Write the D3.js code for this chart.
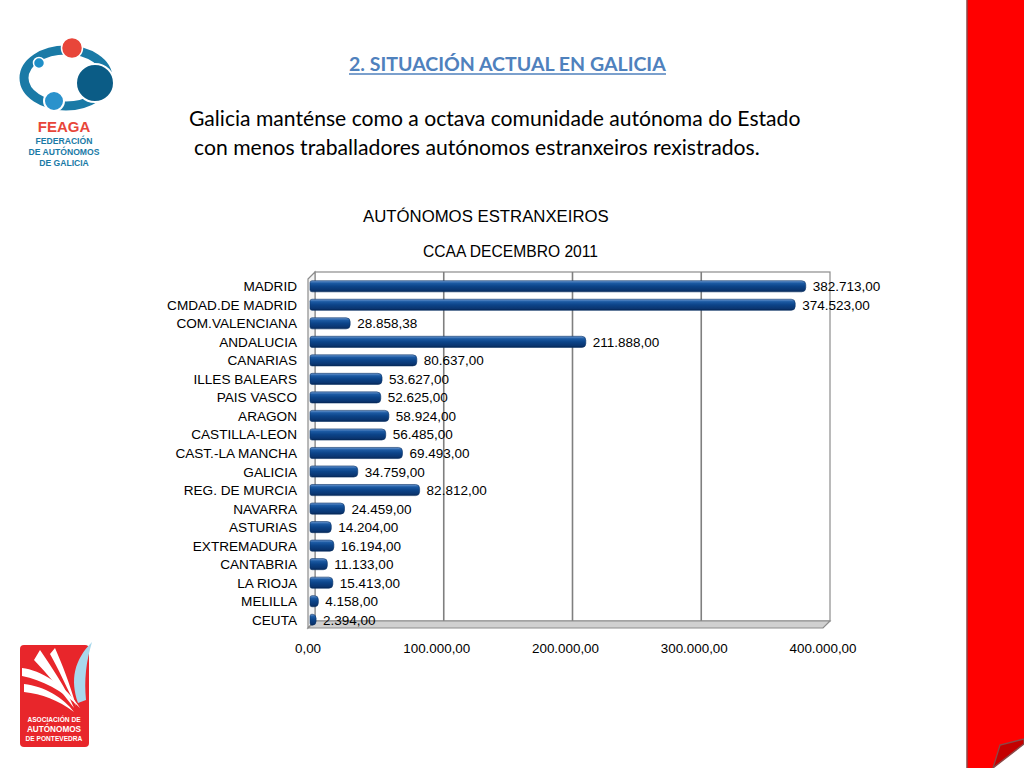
<!DOCTYPE html>
<html><head><meta charset="utf-8">
<script src="https://cdnjs.cloudflare.com/ajax/libs/d3/7.8.5/d3.min.js"></script>
<style>html,body{margin:0;padding:0;background:#fff;}svg{display:block;}</style>
</head><body>
<svg id="c" width="1024" height="768"></svg>
<script>
const categories = ["MADRID","CMDAD.DE MADRID","COM.VALENCIANA","ANDALUCIA","CANARIAS","ILLES BALEARS","PAIS VASCO","ARAGON","CASTILLA-LEON","CAST.-LA MANCHA","GALICIA","REG. DE MURCIA","NAVARRA","ASTURIAS","EXTREMADURA","CANTABRIA","LA RIOJA","MELILLA","CEUTA"];
const values = [382713,374523,28858.38,211888,80637,53627,52625,58924,56485,69493,34759,82812,24459,14204,16194,11133,15413,4158,2394];
const tickValues = [0,100000,200000,300000,400000];
const heading = "2. SITUACIÓN ACTUAL EN GALICIA";
const bodyLines = ["Galicia manténse como a octava comunidade autónoma do Estado","con menos traballadores autónomos estranxeiros rexistrados."];
const chartTitle = "AUTÓNOMOS ESTRANXEIROS";
const chartSubtitle = "CCAA DECEMBRO 2011";

const svg = d3.select("#c");
const loc = d3.formatLocale({decimal:",",thousands:".",grouping:[3],currency:["","€"]});
const fmt = loc.format(",.2f");

function fit(sel, w){ const n=sel.node(); const cur=n.getComputedTextLength(); const fs=parseFloat(sel.attr("font-size")); sel.attr("font-size", fs*w/cur); }

const defs = svg.append("defs");
const g = defs.append("linearGradient").attr("id","bar").attr("x1",0).attr("y1",0).attr("x2",0).attr("y2",1);
[[0,"#6f9bd3"],[0.22,"#1c5aa3"],[0.5,"#0c4489"],[0.85,"#0a3570"],[1,"#052552"]].forEach(s=>g.append("stop").attr("offset",s[0]).attr("stop-color",s[1]));

// Right red band
svg.append("rect").attr("x",967).attr("y",-2).attr("width",60).attr("height",772).attr("fill","#ff0000").attr("stroke","#8b4747").attr("stroke-width",1.5);
svg.append("path").attr("d","M993,768 L1000,745 L1024,739 L1024,744 Z").attr("fill","#c40000").attr("stroke","#8b4747").attr("stroke-width",1.3);
svg.append("path").attr("d","M993,768 L1024,744 L1024,768 Z").attr("fill","#fff");
svg.append("path").attr("d","M993,768 L1024,744").attr("stroke","#8b4747").attr("stroke-width",1.3);

// FEAGA logo
const lg = svg.append("g");
lg.append("ellipse").attr("cx",66).attr("cy",78).attr("rx",42).attr("ry",28).attr("fill","none").attr("stroke","#1a7aa6").attr("stroke-width",9);
lg.append("circle").attr("cx",72).attr("cy",48).attr("r",10.5).attr("fill","#e8463a").attr("stroke","#fff").attr("stroke-width",1.5);
lg.append("circle").attr("cx",39).attr("cy",63).attr("r",5.5).attr("fill","#1f8fc8").attr("stroke","#fff").attr("stroke-width",1.5);
lg.append("circle").attr("cx",95).attr("cy",83).attr("r",19).attr("fill","#0b5c86").attr("stroke","#fff").attr("stroke-width",2);
lg.append("circle").attr("cx",54).attr("cy",101).attr("r",10).attr("fill","#2a92cc").attr("stroke","#fff").attr("stroke-width",2);
lg.append("text").attr("x",64).attr("y",132).attr("text-anchor","middle").attr("font-family","Liberation Sans, Arial, sans-serif").attr("font-weight","bold").attr("font-size",15).attr("fill","#e8463a").text("FEAGA");
[["FEDERACIÓN",144],["DE AUTÓNOMOS",155],["DE GALICIA",166]].forEach(d=>lg.append("text").attr("x",64).attr("y",d[1]).attr("text-anchor","middle").attr("font-family","Liberation Sans, Arial, sans-serif").attr("font-weight","bold").attr("font-size",8.6).attr("fill","#1a7aa6").text(d[0]));

// Pontevedra logo
const pg = svg.append("g");
pg.append("rect").attr("x",20).attr("y",645).attr("width",69).attr("height",102).attr("rx",4).attr("fill","#e8262b");
pg.append("path").attr("d","M78,703 C70,680 74,660 92,642 C86,662 84,680 86,700 Z").attr("fill","#a8d8ec");
pg.append("path").attr("d","M22,668 C40,670 66,685 80,708 C62,690 42,680 22,676 Z").attr("fill","#fff");
pg.append("path").attr("d","M24,684 C44,686 64,698 74,712 C58,700 42,694 24,692 Z").attr("fill","#fff");
pg.append("path").attr("d","M40,650 C52,668 66,688 74,708 C60,690 48,674 34,660 Z").attr("fill","#fff");
pg.append("path").attr("d","M55,648 C62,664 70,684 76,706 C66,686 58,668 50,654 Z").attr("fill","#fff");
[["ASOCIACIÓN DE",722,6.6],["AUTÓNOMOS",732,8.2],["DE PONTEVEDRA",741,6.6]].forEach(d=>pg.append("text").attr("x",54).attr("y",d[1]).attr("text-anchor","middle").attr("font-family","Liberation Sans, Arial, sans-serif").attr("font-weight","bold").attr("font-size",d[2]).attr("fill","#fff").text(d[0]));

// Heading
const h = svg.append("text").attr("x",349).attr("y",71).attr("font-family","Lato, 'Open Sans', sans-serif").attr("font-weight","bold").attr("font-size",19).attr("fill","#4f81bd").text(heading);
fit(h,317);
svg.append("line").attr("x1",349).attr("x2",666).attr("y1",74).attr("y2",74).attr("stroke","#4f81bd").attr("stroke-width",1.3);
const b1 = svg.append("text").attr("x",189).attr("y",126).attr("font-family","Lato, 'Open Sans', sans-serif").attr("font-size",20).attr("fill","#000").text(bodyLines[0]);
fit(b1,612);
const b2 = svg.append("text").attr("x",194).attr("y",155).attr("font-family","Lato, 'Open Sans', sans-serif").attr("font-size",20).attr("fill","#000").text(bodyLines[1]);
fit(b2,566);

// Chart titles
const t1 = svg.append("text").attr("x",363).attr("y",222).attr("font-family","Liberation Sans, Arial, sans-serif").attr("font-size",17).attr("fill","#000").text(chartTitle);
fit(t1,246);
const t2 = svg.append("text").attr("x",423).attr("y",257).attr("font-family","Liberation Sans, Arial, sans-serif").attr("font-size",15).attr("fill","#000").text(chartSubtitle);
fit(t2,175);

// Chart
const x = d3.scaleLinear().domain([0,400000]).range([308,823]);
const dx = 7, dy = -7;
const y = d3.scaleBand().domain(categories).range([277,629]).paddingInner(0.4).paddingOuter(0.2);
const yTop = 279, yBot = 628;
const ch = svg.append("g");
// back wall
ch.append("rect").attr("x",x(0)+dx).attr("y",yTop+dy).attr("width",x(400000)-x(0)).attr("height",yBot-yTop).attr("fill","#fff").attr("stroke","#8c8c8c").attr("stroke-width",1.2);
// gridlines
ch.selectAll("line.grid").data(tickValues.slice(1,4)).join("line").attr("class","grid")
  .attr("x1",d=>x(d)+dx).attr("x2",d=>x(d)+dx).attr("y1",yTop+dy).attr("y2",yBot+dy).attr("stroke","#7f7f7f").attr("stroke-width",1.6);
// left wall
ch.append("path").attr("d",`M${x(0)},${yTop} L${x(0)+dx},${yTop+dy} L${x(0)+dx},${yBot+dy} L${x(0)},${yBot} Z`).attr("fill","#f4f4f4").attr("stroke","#8c8c8c").attr("stroke-width",1.2);
// floor
ch.append("path").attr("d",`M${x(0)},${yBot} L${x(0)+dx},${yBot+dy} L${x(400000)+dx},${yBot+dy} L${x(400000)},${yBot} Z`).attr("fill","#d0d0d0").attr("stroke","#8c8c8c").attr("stroke-width",1.2);
// bars
const bh = y.bandwidth();
ch.selectAll("path.bar").data(values).join("path").attr("class","bar")
  .attr("d",(v,i)=>{const y0=y(categories[i]), x0=x(0)+2, x1=Math.max(x(v)+5,x0+5), r=Math.min(bh/2,4);
    return `M${x0+2},${y0} L${x1-r},${y0} Q${x1},${y0} ${x1},${y0+r} L${x1},${y0+bh-r} Q${x1},${y0+bh} ${x1-r},${y0+bh} L${x0+2},${y0+bh} Q${x0},${y0+bh} ${x0},${y0+bh-2} L${x0},${y0+2} Q${x0},${y0} ${x0+2},${y0} Z`;})
  .attr("fill","url(#bar)").attr("stroke","#0a3366").attr("stroke-width",0.6);
// value labels
ch.selectAll("text.val").data(values).join("text").attr("class","val")
  .attr("x",v=>x(v)+12).attr("y",(v,i)=>y(categories[i])+bh/2+5)
  .attr("font-family","Liberation Sans, Arial, sans-serif").attr("font-size",13.5).attr("fill","#000").text(v=>fmt(v));
// category labels
ch.selectAll("text.cat").data(categories).join("text").attr("class","cat")
  .attr("x",297).attr("y",d=>y(d)+bh/2+5).attr("text-anchor","end")
  .attr("font-family","Liberation Sans, Arial, sans-serif").attr("font-size",13.6).attr("fill","#000").text(d=>d);
// x axis labels
ch.selectAll("text.tick").data(tickValues).join("text").attr("class","tick")
  .attr("x",d=>x(d)).attr("y",653).attr("text-anchor","middle")
  .attr("font-family","Liberation Sans, Arial, sans-serif").attr("font-size",13.4).attr("fill","#000").text(d=>fmt(d));
</script>
</body></html>
